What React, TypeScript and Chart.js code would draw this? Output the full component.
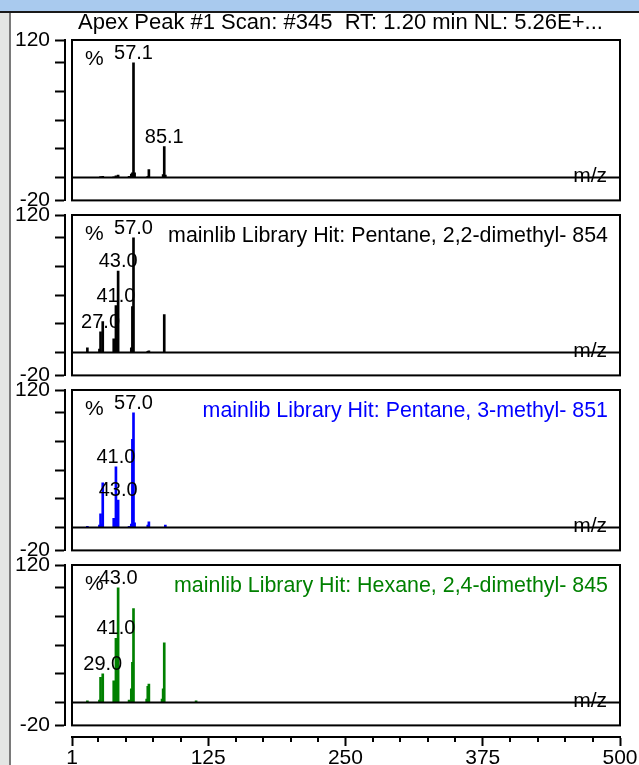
import React, { useEffect, useRef } from "react";
import { Chart, registerables } from "chart.js";

Chart.register(...registerables);

const FONT = '"Liberation Sans", Arial, sans-serif';

// ---- axes ----
const X_MIN = 1;
const X_MAX = 500;
const Y_MIN = -20;
const Y_MAX = 120;
const Y_TICKS = [-20, 0, 25, 50, 75, 100, 120];
const Y_TICK_LABELS = [-20, 120];
const X_TICKS = [1, 125, 250, 375, 500];
const X_MINOR_TICKS = [25, 50, 75, 100, 150, 175, 200, 225, 275, 300, 325, 350, 400, 425, 450, 475];

// ---- titles ----
const TITLE_1 = "Apex Peak #1 Scan: #345  RT: 1.20 min NL: 5.26E+...";
const TITLE_2 = "mainlib Library Hit: Pentane, 2,2-dimethyl- 854";
const TITLE_3 = "mainlib Library Hit: Pentane, 3-methyl- 851";
const TITLE_4 = "mainlib Library Hit: Hexane, 2,4-dimethyl- 845";

// ---- spectra (m/z, relative intensity %) ----
const MZ_1 = [27, 29, 39, 41, 43, 53, 55, 56, 57, 58, 70, 71, 84, 85, 86];
const INT_1 = [0.8, 1, 0.6, 1.5, 2, 1, 3, 4, 100, 4, 1, 7, 2.5, 27, 2];
const PEAKS_1 = [57.1, 85.1];

const MZ_2 = [15, 26, 27, 29, 39, 41, 42, 43, 55, 56, 57, 70, 71, 85];
const INT_2 = [4, 3, 18, 27, 12, 41, 5, 71, 4, 40, 100, 1, 1.5, 33];
const PEAKS_2 = [57.0, 43.0, 41.0, 27.0];

const MZ_3 = [15, 26, 27, 28, 29, 39, 40, 41, 42, 43, 53, 55, 56, 57, 58, 70, 71, 86];
const INT_3 = [1, 2, 12, 3, 39, 8, 2, 53, 10, 24, 1, 3, 77, 100, 4, 2, 5, 2];
const PEAKS_3 = [57.0, 41.0, 43.0];

const MZ_4 = [15, 26, 27, 29, 39, 41, 42, 43, 53, 55, 56, 57, 69, 70, 71, 83, 84, 85, 114];
const INT_4 = [1.5, 2, 22, 25, 19, 56, 30, 100, 2, 12, 35, 82, 3, 14, 16, 3, 12, 52, 1.5];
const PEAKS_4 = [43.0, 41.0, 29.0];

const COLORS = ["#000000", "#000000", "#0000ff", "#008000"];

const PANELS = [
  { mz: MZ_1, ints: INT_1, peaks: PEAKS_1, title: TITLE_1, color: COLORS[0] },
  { mz: MZ_2, ints: INT_2, peaks: PEAKS_2, title: TITLE_2, color: COLORS[1] },
  { mz: MZ_3, ints: INT_3, peaks: PEAKS_3, title: TITLE_3, color: COLORS[2] },
  { mz: MZ_4, ints: INT_4, peaks: PEAKS_4, title: TITLE_4, color: COLORS[3] },
];

// ---- layout (pixels) ----
const W = 639;
const BOX_TOPS = [40, 215, 390, 565];
const BOX_H = 162;
const AXIS_X = 65;
const BOX_LEFT = 72;
const BOX_RIGHT = 620;
const PAD_TOP = 34;
const PAD_BOTTOM = 16;

function Panel({ index }: { index: number }) {
  const ref = useRef<HTMLCanvasElement | null>(null);
  useEffect(() => {
    const p = PANELS[index];
    const xMinPanel =
      X_MIN - ((BOX_LEFT - AXIS_X) * (X_MAX - X_MIN)) / (BOX_RIGHT - BOX_LEFT);
    const decor = {
      id: "decor" + index,
      afterDraw(chart: any) {
        const { ctx, chartArea: a } = chart;
        const xs = chart.scales.x;
        const ys = chart.scales.y;
        const left = xs.getPixelForValue(X_MIN);
        const right = xs.getPixelForValue(X_MAX);
        ctx.save();
        ctx.strokeStyle = "#000";
        ctx.lineWidth = 2;
        ctx.strokeRect(left, a.top, right - left, a.bottom - a.top);
        ctx.fillStyle = "#000";
        ctx.textBaseline = "alphabetic";
        // peak labels
        ctx.font = `20px ${FONT}`;
        ctx.textAlign = "center";
        p.peaks.forEach((pk) => {
          const m = Math.round(pk);
          const k = p.mz.indexOf(m);
          const px = xs.getPixelForValue(m);
          const py = ys.getPixelForValue(p.ints[k]);
          ctx.fillText(pk.toFixed(1), px, py - 4);
        });
        // % and m/z
        ctx.font = `21px ${FONT}`;
        ctx.textAlign = "left";
        ctx.fillText("%", left + 13, a.top + 25);
        ctx.textAlign = "right";
        ctx.fillText("m/z", right - 13, ys.getPixelForValue(0) + 5);
        // title
        if (index === 0) {
          ctx.font = `22px ${FONT}`;
          ctx.textAlign = "left";
          ctx.fillStyle = p.color;
          ctx.fillText(p.title, left + 6, a.top - 11);
        } else {
          ctx.font = `21.4px ${FONT}`;
          ctx.textAlign = "right";
          ctx.fillStyle = p.color;
          ctx.fillText(p.title, right - 12, a.top + 27);
        }
        ctx.restore();
      },
    };
    const chart = new Chart(ref.current as HTMLCanvasElement, {
      type: "bar",
      data: {
        datasets: [
          {
            type: "bar",
            data: p.mz.map((m, k) => ({ x: m, y: p.ints[k] })),
            backgroundColor: p.color,
            borderWidth: 0,
            barThickness: 2,
            grouped: false,
            order: 2,
          } as any,
          {
            type: "line",
            data: [
              { x: X_MIN, y: 0 },
              { x: X_MAX, y: 0 },
            ],
            borderColor: "#000",
            borderWidth: 2,
            pointRadius: 0,
            order: 1,
          } as any,
        ],
      },
      options: {
        animation: false,
        responsive: false,
        maintainAspectRatio: false,
        events: [],
        layout: {
          padding: { top: PAD_TOP, bottom: PAD_BOTTOM, left: 0, right: W - BOX_RIGHT },
        },
        plugins: { legend: { display: false }, tooltip: { enabled: false } },
        scales: {
          x: {
            type: "linear",
            min: xMinPanel,
            max: X_MAX,
            display: false,
            offset: false,
            grid: { display: false, offset: false },
          },
          y: {
            type: "linear",
            min: Y_MIN,
            max: Y_MAX,
            afterBuildTicks: (s: any) => {
              s.ticks = Y_TICKS.map((v) => ({ value: v }));
            },
            afterFit: (s: any) => {
              s.width = AXIS_X;
            },
            ticks: {
              autoSkip: false,
              color: "#000",
              padding: 5,
              font: { family: FONT, size: 21 },
              callback: (v: any) => (Y_TICK_LABELS.includes(Number(v)) ? String(v) : ""),
            },
            grid: {
              drawOnChartArea: false,
              drawTicks: true,
              tickLength: 10,
              tickColor: "#000",
              tickWidth: 2,
            },
            border: { display: true, color: "#000", width: 2 },
          },
        },
      } as any,
      plugins: [decor],
    });
    return () => chart.destroy();
  }, [index]);
  const h = PAD_TOP + BOX_H + PAD_BOTTOM;
  return (
    <canvas
      ref={ref}
      width={W}
      height={h}
      style={{
        position: "absolute",
        left: 0,
        top: BOX_TOPS[index] - PAD_TOP,
        width: W,
        height: h,
      }}
    />
  );
}

const XAXIS_TOP = 725;
const XAXIS_H = 40;
const XAXIS_LINE = 737;

function XAxis() {
  const ref = useRef<HTMLCanvasElement | null>(null);
  useEffect(() => {
    const minor = {
      id: "minorTicks",
      afterDraw(chart: any) {
        const { ctx } = chart;
        const xs = chart.scales.x;
        ctx.save();
        ctx.strokeStyle = "#000";
        ctx.lineWidth = 2;
        X_MINOR_TICKS.forEach((v) => {
          const px = Math.round(xs.getPixelForValue(v));
          ctx.beginPath();
          ctx.moveTo(px, xs.top);
          ctx.lineTo(px, xs.top + 5);
          ctx.stroke();
        });
        ctx.restore();
      },
    };
    const chart = new Chart(ref.current as HTMLCanvasElement, {
      type: "scatter",
      data: { datasets: [] },
      options: {
        animation: false,
        responsive: false,
        maintainAspectRatio: false,
        events: [],
        layout: { padding: { top: 0, bottom: 0, left: BOX_LEFT, right: W - BOX_RIGHT } },
        plugins: { legend: { display: false }, tooltip: { enabled: false } },
        scales: {
          x: {
            type: "linear",
            position: "bottom",
            min: X_MIN,
            max: X_MAX,
            afterBuildTicks: (s: any) => {
              s.ticks = X_TICKS.map((v) => ({ value: v }));
            },
            afterFit: (s: any) => {
              s.height = XAXIS_TOP + XAXIS_H - XAXIS_LINE;
            },
            ticks: {
              autoSkip: false,
              maxRotation: 0,
              color: "#000",
              padding: 0,
              font: { family: FONT, size: 21 },
            },
            grid: {
              drawOnChartArea: false,
              drawTicks: true,
              tickLength: 9,
              tickColor: "#000",
              tickWidth: 2,
            },
            border: { display: true, color: "#000", width: 2 },
          },
          y: { display: false, min: 0, max: 1 },
        },
      } as any,
      plugins: [minor],
    });
    return () => chart.destroy();
  }, []);
  return (
    <canvas
      ref={ref}
      width={W}
      height={XAXIS_H}
      style={{ position: "absolute", left: 0, top: XAXIS_TOP, width: W, height: XAXIS_H }}
    />
  );
}

export default function App() {
  return (
    <div
      style={{
        position: "fixed",
        left: 0,
        top: 0,
        width: W,
        height: 765,
        background: "#ffffff",
        overflow: "hidden",
      }}
    >
      <div style={{ position: "absolute", left: 0, top: 0, width: W, height: 11, background: "#a9caee" }} />
      <div style={{ position: "absolute", left: 0, top: 11, width: W, height: 2, background: "#1a1a1a" }} />
      <div style={{ position: "absolute", left: 0, top: 13, width: 9, height: 752, background: "#e4e6e4" }} />
      <div style={{ position: "absolute", left: 9, top: 13, width: 2, height: 752, background: "#7a7a7a" }} />
      {[0, 1, 2, 3].map((i) => (
        <Panel key={i} index={i} />
      ))}
      <XAxis />
    </div>
  );
}
